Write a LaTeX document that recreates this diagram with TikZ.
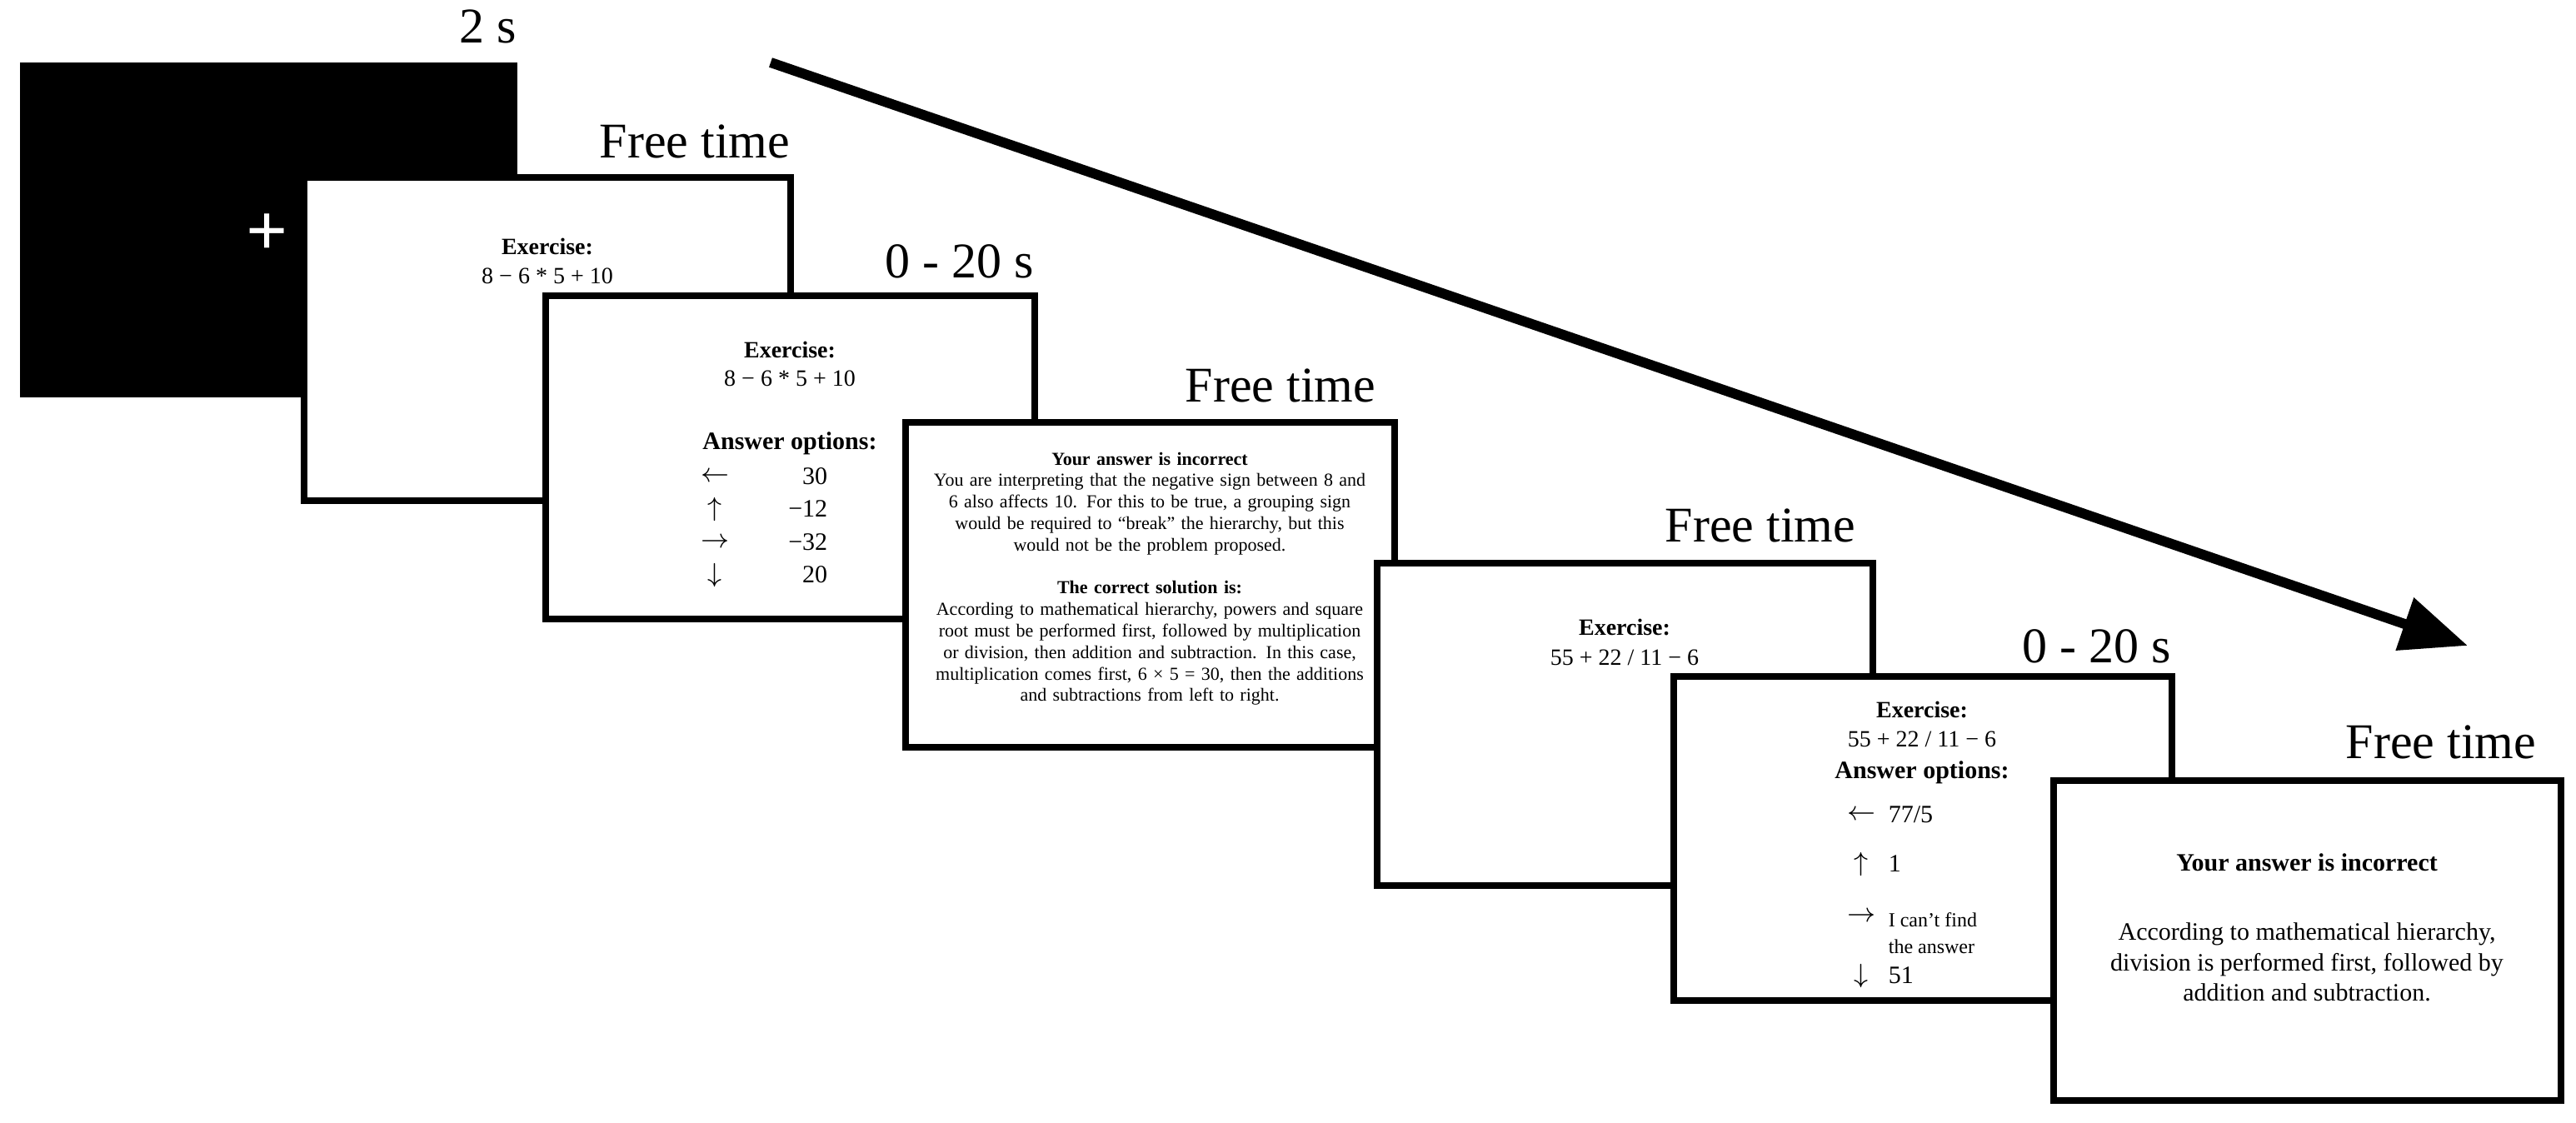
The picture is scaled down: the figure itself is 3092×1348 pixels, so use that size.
\documentclass[tikz,border=0pt]{standalone}
\usepackage{fontspec}
\setmainfont{Liberation Serif}
\usetikzlibrary{arrows.meta}
\begin{document}
\begin{tikzpicture}[x=0.25pt,y=-0.25pt,
  scr/.style={draw=black,line width=2pt,fill=white},
  lab/.style={anchor=base east,font=\fontsize{15}{18}\selectfont,inner sep=0},
  t/.style={inner sep=0,font=\fontsize{7}{8.4}\selectfont},
  tb/.style={t,font=\fontsize{7}{8.4}\selectfont\bfseries},
  opt/.style={inner sep=0,anchor=west,font=\fontsize{7.5}{9}\selectfont},
  ar/.style={inner sep=0,font=\fontsize{8.5}{9}\selectfont}]
\useasboundingbox (0,0) rectangle (3092,1348);
% screens
\fill (24,75) rectangle (621,477);
\node[text=white,font=\fontsize{22}{22}\selectfont\bfseries,inner sep=0] (plus) at (321,282) {+};
\draw[scr] (365,213) rectangle (949,601);
\draw[scr] (655,355) rectangle (1242,743);
\draw[scr] (1087,507) rectangle (1674,897);
\draw[scr] (1653,676) rectangle (2248,1063);
\draw[scr] (2009,812) rectangle (2607,1201);
\draw[scr] (2465,937) rectangle (3074,1321);
% labels
\node[lab] (l1) at (621,52) {2 s};
\node[lab] (l2) at (949,190) {Free time};
\node[lab] (l3) at (1242,333) {0 - 20 s};
\node[lab] (l4) at (1652,482) {Free time};
\node[lab] (l5) at (2228,650) {Free time};
\node[lab] (l6) at (2607,795) {0 - 20 s};
\node[lab] (l7) at (3045,910) {Free time};
% arrow
\coordinate (a1) at (925,75);
\coordinate (a2) at (2962,775);
\draw[line width=3pt,-{Triangle[length=20pt,width=16pt]}] (a1) -- (a2);
% box 2
\node[tb] (e2) at (657,296) {Exercise:};
\node[t] (x2) at (657,331) {8 − 6 * 5 + 10};
% box 3
\node[tb] (e3) at (948,420) {Exercise:};
\node[t] (x3) at (948,454) {8 − 6 * 5 + 10};
\node[tb,font=\fontsize{7.5}{9}\selectfont\bfseries] (a3) at (948,532) {Answer options:};
\node[ar] (o1a) at (858,572) {$\leftarrow$}; \node[opt,anchor=east] (o1) at (994,572) {30};
\node[ar] (o2a) at (858,611) {$\uparrow$}; \node[opt,anchor=east] (o2) at (994,611) {−12};
\node[ar] (o3a) at (858,651) {$\rightarrow$}; \node[opt,anchor=east] (o3) at (994,651) {−32};
\node[ar] (o4a) at (858,690) {$\downarrow$}; \node[opt,anchor=east] (o4) at (994,690) {20};
% box 4
\node[inner sep=0,anchor=north,text width=131pt,font=\fontsize{5.5}{6.45}\selectfont] (fb4) at (1380,542) {\centering\hyphenpenalty=10000\exhyphenpenalty=10000
\textbf{Your answer is incorrect}\\
You are interpreting that the negative sign between 8 and 6 also affects 10. For this to be true, a grouping sign would be required to “break” the hierarchy, but this would not be the problem proposed.\\[6.45pt]
\textbf{The correct solution is:}\\
According to mathematical hierarchy, powers and square root must be performed first, followed by multiplication or division, then addition and subtraction. In this case, multiplication comes first, 6 × 5 = 30, then the additions and subtractions from left to right.\par};
% box 5
\node[tb] (e5) at (1950,753) {Exercise:};
\node[t] (x5) at (1950,789) {55 + 22 / 11 − 6};
% box 6
\node[tb] (e6) at (2307,852) {Exercise:};
\node[t] (x6) at (2307,887) {55 + 22 / 11 − 6};
\node[tb,font=\fontsize{7.5}{9}\selectfont\bfseries] (a6) at (2307,927) {Answer options:};
\node[ar] (p1a) at (2234,978) {$\leftarrow$}; \node[opt] (p1) at (2266,978) {77/5};
\node[ar] (p2a) at (2234,1037) {$\uparrow$}; \node[opt] (p2) at (2266,1037) {1};
\node[ar] (p3a) at (2234,1100) {$\rightarrow$}; \node[opt,font=\fontsize{6}{7}\selectfont] (p3) at (2266,1104) {I can't find};
\node[opt,font=\fontsize{6}{7}\selectfont] (p3b) at (2266,1136) {the answer};
\node[ar] (p4a) at (2234,1171) {$\downarrow$}; \node[opt] (p4) at (2266,1171) {51};
% box 7
\node[inner sep=0,font=\fontsize{7.5}{9}\selectfont\bfseries] (h7) at (2769,1035) {Your answer is incorrect};
\node[inner sep=0,anchor=north,align=center,font=\fontsize{7.5}{9.1}\selectfont] (b7) at (2769,1107) {According to mathematical hierarchy,\\division is performed first, followed by\\addition and subtraction.};
\end{tikzpicture}
\end{document}
